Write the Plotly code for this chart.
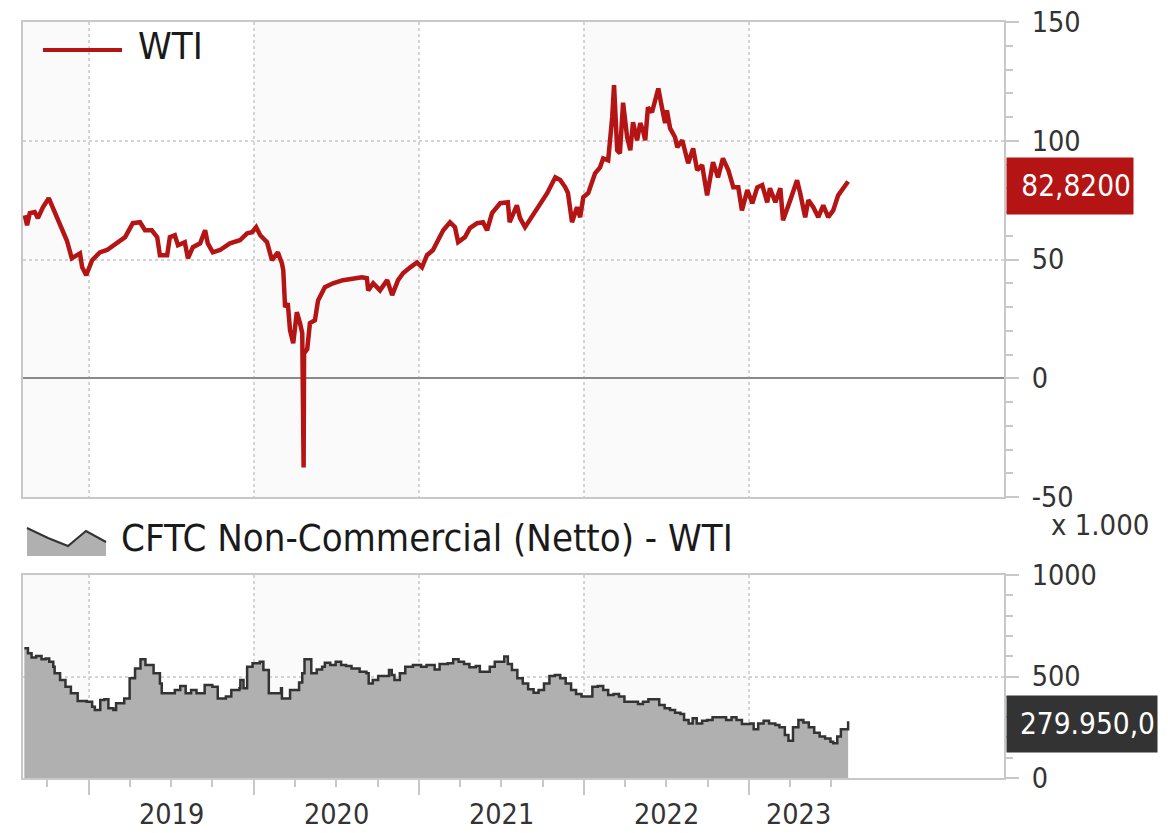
import pandas as pd
import plotly.graph_objects as go

# --- data ------------------------------------------------------------------
wti_dates = [
    "2018-08-12", "2018-08-17", "2018-08-23", "2018-09-03", "2018-09-10", "2018-09-21",
    "2018-10-04", "2018-10-18", "2018-11-02", "2018-11-13", "2018-11-24", "2018-12-12",
    "2018-12-17", "2018-12-26", "2019-01-08", "2019-01-25", "2019-02-10", "2019-03-04",
    "2019-03-22", "2019-04-08", "2019-04-24", "2019-05-05", "2019-05-20", "2019-06-01",
    "2019-06-07", "2019-06-23", "2019-06-29", "2019-07-10", "2019-07-17", "2019-08-01",
    "2019-08-08", "2019-08-19", "2019-09-04", "2019-09-15", "2019-09-21", "2019-10-02",
    "2019-10-18", "2019-11-09", "2019-12-01", "2019-12-17", "2019-12-28", "2020-01-06",
    "2020-01-15", "2020-01-30", "2020-02-10", "2020-02-23", "2020-03-03", "2020-03-06",
    "2020-03-10", "2020-03-16", "2020-03-21", "2020-03-28", "2020-04-05", "2020-04-12",
    "2020-04-17", "2020-04-20", "2020-04-21", "2020-04-28", "2020-05-04", "2020-05-15",
    "2020-05-22", "2020-06-06", "2020-06-24", "2020-07-16", "2020-08-07", "2020-08-27",
    "2020-09-07", "2020-09-10", "2020-09-21", "2020-10-06", "2020-10-22", "2020-11-02",
    "2020-11-15", "2020-11-26", "2020-12-12", "2020-12-27", "2021-01-07", "2021-01-18",
    "2021-01-31", "2021-02-09", "2021-02-23", "2021-03-10", "2021-03-21", "2021-03-28",
    "2021-04-12", "2021-04-23", "2021-05-09", "2021-05-22", "2021-05-31", "2021-06-11",
    "2021-06-29", "2021-07-16", "2021-07-20", "2021-08-05", "2021-08-12", "2021-08-23",
    "2021-09-10", "2021-09-21", "2021-10-11", "2021-10-29", "2021-11-09", "2021-11-20",
    "2021-11-26", "2021-12-05", "2021-12-16", "2021-12-23", "2021-12-30", "2022-01-10",
    "2022-01-18", "2022-01-25", "2022-02-05", "2022-02-12", "2022-02-23", "2022-03-04",
    "2022-03-08", "2022-03-15", "2022-03-21", "2022-03-28", "2022-04-06", "2022-04-13",
    "2022-04-19", "2022-04-28", "2022-05-05", "2022-05-11", "2022-05-16", "2022-05-22",
    "2022-05-31", "2022-06-14", "2022-06-22", "2022-06-29", "2022-07-03", "2022-07-10",
    "2022-07-21", "2022-07-26", "2022-08-06", "2022-08-12", "2022-08-19", "2022-08-30",
    "2022-09-08", "2022-09-19", "2022-09-30", "2022-10-13", "2022-10-24", "2022-11-04",
    "2022-11-16", "2022-11-27", "2022-12-08", "2022-12-16", "2022-12-28", "2023-01-08",
    "2023-01-19", "2023-01-30", "2023-02-10", "2023-02-16", "2023-02-28", "2023-03-11",
    "2023-03-17", "2023-04-02", "2023-04-17", "2023-04-24", "2023-05-05", "2023-05-12",
    "2023-05-23", "2023-06-03", "2023-06-14", "2023-06-25", "2023-07-06", "2023-07-17",
    "2023-07-28", "2023-08-08",
]
wti_values = [
    68.6, 64.4, 69.5, 70.0, 67.4, 72.0,
    75.8, 69.5, 63.6, 58.0, 50.5, 52.6,
    46.7, 43.4, 49.7, 53.0, 54.0, 57.3,
    59.4, 65.3, 65.7, 62.3, 62.3, 59.4,
    51.8, 51.8, 59.4, 60.2, 56.0, 57.3,
    50.5, 55.2, 56.8, 62.3, 56.8, 53.0,
    54.0, 56.8, 58.1, 61.0, 61.5, 63.6,
    60.2, 57.3, 49.7, 53.0, 48.4, 45.5,
    29.9, 31.6, 20.2, 14.7, 27.8, 23.2,
    18.9, -37.6, 10.5, 12.3, 23.2, 24.4,
    32.8, 38.3, 40.0, 41.3, 42.1, 42.5,
    42.1, 37.0, 40.0, 37.0, 41.3, 35.0,
    41.3, 44.2, 46.7, 48.8, 46.7, 51.8,
    53.9, 57.3, 62.3, 65.7, 63.6, 57.3,
    59.4, 63.2, 65.3, 65.7, 62.3, 69.5,
    73.7, 74.1, 65.7, 72.8, 67.4, 63.6,
    68.6, 72.0, 77.9, 84.6, 83.5, 80.4,
    78.0, 65.7, 72.0, 67.8, 76.2, 78.0,
    82.0, 86.3, 88.8, 92.6, 91.8, 110.0,
    123.4, 96.0, 94.7, 116.0, 101.5, 96.0,
    107.8, 100.2, 107.4, 104.4, 100.2, 114.0,
    112.0, 122.0, 114.0, 107.4, 112.8, 105.3,
    101.5, 97.3, 100.2, 95.2, 90.5, 96.8,
    87.6, 89.7, 77.0, 91.0, 84.6, 92.6,
    87.6, 80.4, 80.4, 70.7, 79.2, 73.7,
    80.4, 81.3, 74.1, 80.0, 74.1, 80.0,
    66.5, 75.0, 83.4, 77.9, 67.8, 75.0,
    72.0, 67.8, 72.8, 67.8, 70.7, 77.0,
    80.0, 82.82,
]

# CFTC non-commercial net positions, in thousands of contracts
cftc_dates = [
    "2018-08-11", "2018-08-19", "2018-08-27", "2018-09-06", "2018-09-18", "2018-09-27",
    "2018-10-05", "2018-10-14", "2018-10-17", "2018-10-29", "2018-11-10", "2018-11-22",
    "2018-12-07", "2018-12-27", "2019-01-08", "2019-01-14", "2019-01-26", "2019-02-04",
    "2019-02-13", "2019-02-24", "2019-03-02", "2019-03-20", "2019-04-01", "2019-04-13",
    "2019-04-25", "2019-05-06", "2019-05-24", "2019-06-07", "2019-06-11", "2019-06-29",
    "2019-07-10", "2019-07-22", "2019-08-03", "2019-08-15", "2019-08-27", "2019-09-14",
    "2019-10-01", "2019-10-13", "2019-10-31", "2019-11-12", "2019-11-30", "2019-12-02",
    "2019-12-09", "2019-12-17", "2019-12-29", "2020-01-14", "2020-01-22", "2020-01-30",
    "2020-02-03", "2020-02-26", "2020-03-01", "2020-03-03", "2020-03-15", "2020-03-21",
    "2020-04-02", "2020-04-10", "2020-04-17", "2020-04-22", "2020-05-04", "2020-05-07",
    "2020-05-19", "2020-05-31", "2020-06-06", "2020-06-18", "2020-06-30", "2020-07-12",
    "2020-07-23", "2020-08-04", "2020-08-22", "2020-09-06", "2020-09-11", "2020-09-20",
    "2020-10-02", "2020-10-14", "2020-10-26", "2020-11-01", "2020-11-07", "2020-11-19",
    "2020-12-01", "2020-12-18", "2021-01-05", "2021-01-17", "2021-02-04", "2021-02-15",
    "2021-03-05", "2021-03-17", "2021-03-29", "2021-04-10", "2021-04-22", "2021-05-06",
    "2021-05-15", "2021-05-27", "2021-06-06", "2021-06-17", "2021-07-08", "2021-07-16",
    "2021-07-25", "2021-08-06", "2021-08-18", "2021-08-30", "2021-09-11", "2021-09-22",
    "2021-10-04", "2021-10-16", "2021-10-28", "2021-11-09", "2021-11-21", "2021-12-03",
    "2021-12-14", "2021-12-26", "2022-01-07", "2022-01-19", "2022-01-31", "2022-02-12",
    "2022-02-23", "2022-03-07", "2022-03-19", "2022-03-31", "2022-04-18", "2022-04-30",
    "2022-05-11", "2022-05-23", "2022-06-04", "2022-06-16", "2022-06-28", "2022-07-10",
    "2022-07-21", "2022-08-02", "2022-08-10", "2022-08-20", "2022-08-29", "2022-09-07",
    "2022-09-19", "2022-09-30", "2022-10-12", "2022-10-30", "2022-11-11", "2022-11-23",
    "2022-12-04", "2022-12-16", "2023-01-03", "2023-01-11", "2023-01-21", "2023-02-02",
    "2023-02-14", "2023-02-28", "2023-03-09", "2023-03-21", "2023-03-29", "2023-04-08",
    "2023-04-20", "2023-05-01", "2023-05-13", "2023-05-25", "2023-06-06", "2023-06-18",
    "2023-06-30", "2023-07-06", "2023-07-15", "2023-07-23", "2023-08-08",
]
cftc_values = [
    639, 614, 594, 601, 585, 589,
    573, 548, 516, 483, 450, 417,
    379, 376, 351, 335, 384, 388,
    343, 335, 368, 392, 491, 540,
    585, 557, 516, 466, 417, 417,
    433, 453, 417, 433, 417, 458,
    450, 392, 401, 433, 442, 483,
    442, 548, 565, 573, 532, 532,
    417, 417, 442, 392, 392, 433,
    433, 470, 516, 585, 585, 516,
    535, 548, 568, 557, 573, 557,
    552, 540, 524, 516, 466, 483,
    502, 502, 532, 507, 483, 516,
    548, 557, 548, 557, 535, 562,
    565, 585, 573, 562, 545, 552,
    524, 524, 548, 573, 598, 562,
    532, 491, 466, 437, 420, 433,
    466, 502, 507, 491, 466, 433,
    414, 401, 401, 450, 453, 433,
    409, 414, 401, 376, 376, 365,
    376, 388, 388, 360, 343, 335,
    322, 315, 286, 269, 294, 269,
    282, 286, 299, 299, 286, 299,
    286, 266, 269, 240, 269, 282,
    269, 261, 250, 212, 184, 250,
    286, 273, 250, 223, 204, 195,
    179, 171, 204, 240, 279.95,
]

year_labels = ["2019", "2020", "2021", "2022", "2023"]
wti_ticks = [-50, 0, 50, 100, 150]
wti_tick_text = ["-50", "0", "50", "100", "150"]
cftc_ticks = [0, 500, 1000]
cftc_tick_text = ["0", "500", "1000"]
wti_name = "WTI"
cftc_name = "CFTC Non-Commercial (Netto) - WTI"
wti_last_label = "82,8200"
cftc_last_label = "279.950,0"
cftc_unit_label = "x 1.000"

# --- styling ---------------------------------------------------------------
FONT = "DejaVu Sans Condensed, Liberation Sans Narrow, DejaVu Sans, sans-serif"
RED = "#b41414"
DARK = "#333333"
AREA = "#b0b0b0"
FRAME = "#c8c8c8"
GRID = "#d4d4d4"
BAND = "#fafafa"
TEXT = "#333333"
TICK_SIZE = 28.5

# the page body has an 8px margin, so the figure is shrunk by that much
PAGE_PAD = 8
W, H = 1168 - PAGE_PAD, 833 - PAGE_PAD
# plot area, in page pixels as measured on the reference
L, R, T, B = 23, 1004, 22, 778
X_RANGE = ["2018-08-08", "2024-07-18"]
TOP_DOMAIN = [(B - 497) / (B - T), 1.0]
BOT_DOMAIN = [0.0, (B - 575) / (B - T)]


def px(x):
    return (x - L) / (R - L)


def py(y):
    return (B - y) / (B - T)


fig = go.Figure()

fig.add_trace(go.Scatter(
    x=wti_dates, y=wti_values, mode="lines", name=wti_name,
    line=dict(color=RED, width=4.5), xaxis="x", yaxis="y",
    showlegend=False,
))
fig.add_trace(go.Scatter(
    x=cftc_dates, y=cftc_values, mode="lines", name=cftc_name,
    line=dict(color=DARK, width=2.5, shape="hv"), fill="tozeroy",
    fillcolor=AREA, xaxis="x2", yaxis="y2", showlegend=False,
))

# ticks / grid only up to the last data point
last_day = pd.Timestamp(cftc_dates[-1])
year_starts = [f"{y}-01-01" for y in year_labels]
quarter_starts = [d.strftime("%Y-%m-%d")
                  for d in pd.date_range(X_RANGE[0], last_day, freq="QS")]

# alternating year background bands
bounds = [X_RANGE[0]] + year_starts + [X_RANGE[1]]
shapes = []
for i in range(0, len(bounds) - 1, 2):
    for xref, yref in (("x", "y domain"), ("x2", "y2 domain")):
        shapes.append(dict(type="rect", xref=xref, yref=yref,
                           x0=bounds[i], x1=bounds[i + 1], y0=0, y1=1,
                           fillcolor=BAND, line=dict(width=0), layer="below"))

# legend icons
shapes.append(dict(type="line", xref="paper", yref="paper",
                   x0=px(43), x1=px(122), y0=py(50), y1=py(50),
                   line=dict(color=RED, width=4)))
icon = [(27, 528), (48, 538), (68, 546), (86, 531), (106, 542)]
fill_path = "M {},{} ".format(px(27), py(556)) + " ".join(
    "L {},{}".format(px(a), py(b)) for a, b in icon) + " L {},{} Z".format(px(106), py(556))
line_path = "M " + " L ".join("{},{}".format(px(a), py(b)) for a, b in icon)
shapes.append(dict(type="path", xref="paper", yref="paper", path=fill_path,
                   fillcolor=AREA, line=dict(width=0)))
shapes.append(dict(type="path", xref="paper", yref="paper", path=line_path,
                   line=dict(color=DARK, width=2)))

annotations = [
    dict(text=wti_name, xref="paper", yref="paper", x=px(136), y=py(46),
         xanchor="left", yanchor="middle", showarrow=False,
         font=dict(size=38, color="#1a1a1a", family=FONT)),
    dict(text=cftc_name, xref="paper", yref="paper", x=px(119), y=py(538),
         xanchor="left", yanchor="middle", showarrow=False,
         font=dict(size=38, color="#1a1a1a", family=FONT)),
    dict(text=cftc_unit_label, xref="paper", yref="paper", x=px(1151), y=py(525),
         xanchor="right", yanchor="middle", showarrow=False,
         font=dict(size=29, color=TEXT, family=FONT)),
    dict(text=wti_last_label, xref="paper", yref="y", x=1, y=wti_values[-1],
         xanchor="left", yanchor="middle", xshift=2, yshift=-4, showarrow=False,
         width=122, height=52, align="right", borderpad=2, bgcolor=RED,
         font=dict(size=29.5, color="white", family=FONT)),
    dict(text=cftc_last_label, xref="paper", yref="y2", x=1, y=cftc_values[-1],
         xanchor="left", yanchor="middle", xshift=2, yshift=-3, showarrow=False,
         width=146, height=52, align="right", borderpad=2, bgcolor=DARK,
         font=dict(size=29.5, color="white", family=FONT)),
]

# year labels centred on the visible part of each year
for y in year_labels:
    start = pd.Timestamp(f"{y}-01-01")
    end = min(pd.Timestamp(f"{int(y) + 1}-01-01"), last_day)
    mid = start + (end - start) / 2
    annotations.append(dict(text=y, xref="x2", yref="paper", x=mid, y=py(815),
                            xanchor="center", yanchor="middle", showarrow=False,
                            font=dict(size=TICK_SIZE, color=TEXT, family=FONT)))

xcommon = dict(range=X_RANGE, type="date", showgrid=True, gridcolor=GRID,
               griddash="dot", gridwidth=2, tickmode="array", tickvals=year_starts,
               showline=True, mirror=True, linecolor=FRAME, linewidth=2,
               zeroline=False, showticklabels=False, automargin=False)
ycommon = dict(side="right", showgrid=True, gridcolor=GRID, griddash="dot",
               gridwidth=2, showline=True, mirror=True, linecolor=FRAME,
               linewidth=2, ticks="outside", ticklen=13, tickwidth=2,
               tickcolor=FRAME, ticklabelstandoff=7, automargin=False,
               ticklabeloverflow="allow",
               tickfont=dict(size=TICK_SIZE, color=TEXT, family=FONT))

fig.update_layout(
    width=W, height=H,
    margin=dict(l=L - PAGE_PAD, r=1168 - R, t=T - PAGE_PAD, b=833 - B),
    paper_bgcolor="white", plot_bgcolor="white",
    font=dict(family=FONT, color=TEXT),
    showlegend=False,
    xaxis=dict(**xcommon, domain=[0, 1], anchor="y", ticks=""),
    xaxis2=dict(**xcommon, domain=[0, 1], anchor="y2", ticks="outside",
                ticklen=15, tickwidth=2, tickcolor=FRAME,
                minor=dict(tickmode="array", tickvals=quarter_starts, ticks="outside",
                           ticklen=7, tickwidth=2, tickcolor=FRAME, showgrid=False)),
    yaxis=dict(**ycommon, domain=TOP_DOMAIN, anchor="x", range=[-50, 150],
               tickmode="array", tickvals=wti_ticks, ticktext=wti_tick_text,
               zeroline=True, zerolinecolor="#8a8a8a", zerolinewidth=2,
               minor=dict(dtick=10, tick0=0, ticks="outside", ticklen=7, tickwidth=2,
                          tickcolor=FRAME, showgrid=False)),
    yaxis2=dict(**ycommon, domain=BOT_DOMAIN, anchor="x2", range=[0, 1000],
                tickmode="array", tickvals=cftc_ticks, ticktext=cftc_tick_text,
                zeroline=False,
                minor=dict(dtick=100, tick0=0, ticks="outside", ticklen=7, tickwidth=2,
                           tickcolor=FRAME, showgrid=False)),
    shapes=shapes,
    annotations=annotations,
)

fig.write_html("out.html")
